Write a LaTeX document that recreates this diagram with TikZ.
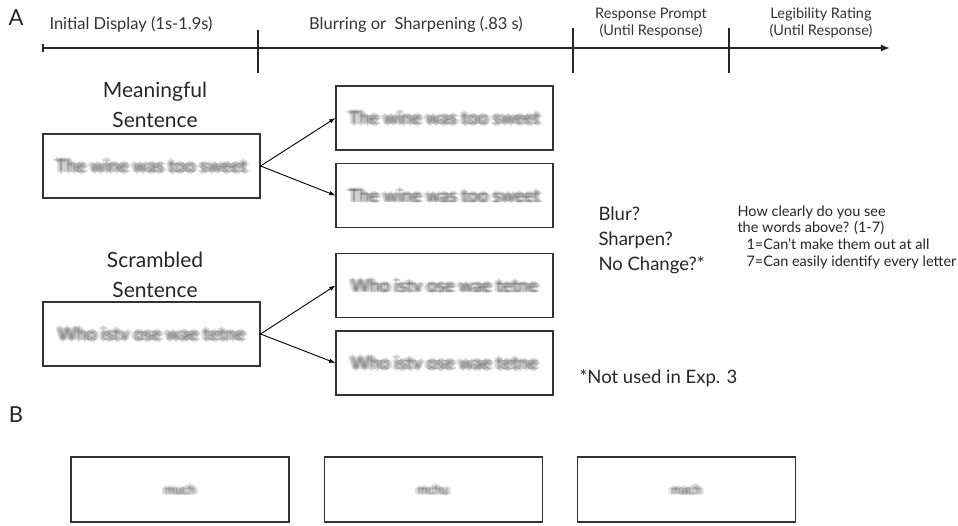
\documentclass[tikz,border=0pt]{standalone}
\usepackage{fontspec}
\setmainfont{Lato}
\usetikzlibrary{arrows.meta,positioning}
\newcommand{\blurred}[3]{%
  \foreach \dx/\dy in {-2.2/0,2.2/0,0/-1.6,0/1.6,-1.1/-0.8,1.1/0.8,-1.1/0.8,1.1/-0.8,0/0,-3.2/0,3.2/0}
    \node[font=\fontsize{#2}{#2}\selectfont, text=black!75, text opacity=0.14, inner sep=0pt]
      at ([shift={(\dx,\dy)}]#1) {#3};}

\begin{document}
\begin{tikzpicture}[
  x=1pt, y=-1pt,
  stimbox/.style={draw=black!80, line width=1.1pt, minimum width=217pt,
                  minimum height=64pt, inner sep=0pt},
  flow/.style={-{Latex[length=2.2mm,width=1.6mm]}, line width=0.9pt},
  tick/.style={line width=1.1pt, draw=black!85},
  head/.style={font=\fontsize{16.5}{18}\selectfont, text=black!80, align=center},
  phase/.style={font=\fontsize{14.5}{17}\selectfont, text=black!80, align=center},
  cond/.style={font=\fontsize{21}{30}\selectfont, text=black!85, align=center},
  answer/.style={font=\fontsize{18.5}{25}\selectfont, text=black!85, align=left, anchor=west},
  rating/.style={font=\fontsize{14.5}{16.7}\selectfont, text=black!85, align=left, anchor=west},
  panel/.style={font=\fontsize{22}{22}\selectfont, text=black!85}
]
\useasboundingbox (0,0) rectangle (958,525);

% timeline
\coordinate (t0) at (42,48);
\coordinate (t1) at (890,48);
\draw[line width=2pt, draw=black!85, {Bar[width=3mm]}-{Latex[length=3.2mm,width=2.6mm]}] (t0) -- (t1);
\draw[tick] (258,30) -- (258,73);
\draw[tick] (573,28) -- (573,73);
\draw[tick] (729,28) -- (729,73);

\node[panel] (A) at (16,18) {A};
\node[head, anchor=west] (init) at (46,25) {Initial Display (1s-1.9s)};
\node[head] (blur) at (416,25) {Blurring or\ \ Sharpening (.83 s)};
\node[phase] (prompt) at (651,23) {Response Prompt\\(Until Response)};
\node[phase] (legib) at (821,23) {Legibility Rating\\(Until Response)};

% meaningful sentence
\node[cond] (meanlab) at (155,105) {Meaningful\\Sentence};
\node[stimbox] (mean) at (151.5,166) {};
\node[stimbox] (meanblur) at (444.5,118) {};
\node[stimbox] (meansharp) at (444.5,195.5) {};
\blurred{mean}{18}{The wine was too sweet}
\blurred{meanblur}{18}{The wine was too sweet}
\blurred{meansharp}{18}{The wine was too sweet}
\draw[flow] (mean.east) -- (meanblur.west);
\draw[flow] (mean.east) -- (meansharp.west);

% scrambled sentence
\node[cond] (scrlab) at (155,275) {Scrambled\\Sentence};
\node[stimbox] (scr) at (151.5,334) {};
\node[stimbox] (scrblur) at (444.5,285.5) {};
\node[stimbox] (scrsharp) at (444.5,363) {};
\blurred{scr}{18}{Who istv ose wae tetne}
\blurred{scrblur}{18}{Who istv ose wae tetne}
\blurred{scrsharp}{18}{Who istv ose wae tetne}
\draw[flow] (scr.east) -- (scrblur.west);
\draw[flow] (scr.east) -- (scrsharp.west);

% responses
\node[answer] (choice) at (595,240) {Blur?\\Sharpen?\\No Change?*};
\node[rating] (scale) at (734,237) {How clearly do you see\\the words above? (1-7)\\
  \hspace{9pt}1=Can't make them out at all\\\hspace{9pt}7=Can easily identify every letter};
\node[answer] (note) at (576,378) {*Not used in Exp. 3};

% panel B
\node[panel] (B) at (16,415) {B};
\node[stimbox, minimum width=218pt, minimum height=65pt] (much) at (180,489.5) {};
\node[stimbox, minimum width=218pt, minimum height=65pt, right=34pt of much] (mchu) {};
\node[stimbox, minimum width=218pt, minimum height=65pt, right=34pt of mchu] (mach) {};
\blurred{much}{13}{much}
\blurred{mchu}{13}{mchu}
\blurred{mach}{13}{mach}
\end{tikzpicture}
\end{document}
